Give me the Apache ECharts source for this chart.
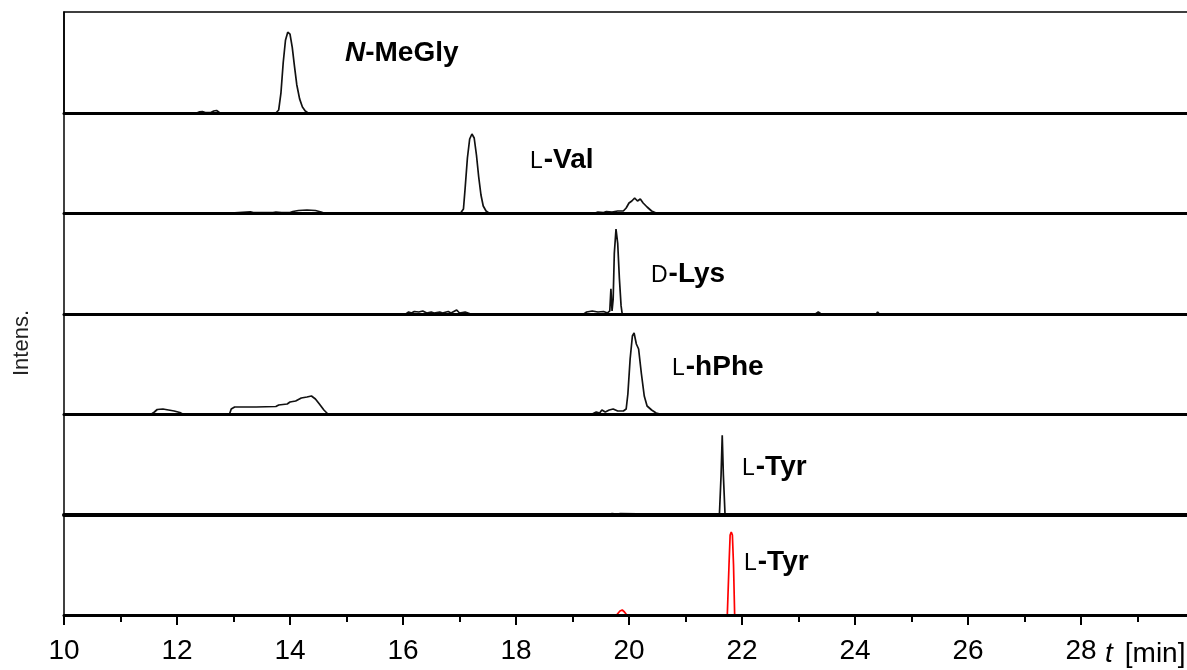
<!DOCTYPE html>
<html>
<head>
<meta charset="utf-8">
<script src="https://cdn.jsdelivr.net/npm/echarts@6/dist/echarts.min.js"></script>
<style>
html,body{margin:0;padding:0;background:#fff;}
#chart{width:1187px;height:670px;}
</style>
</head>
<body>
<div id="chart"></div>
<script>
// ---- data (time in min, intensity in % of panel) ----
const xTicks = [10, 12, 14, 16, 18, 20, 22, 24, 26, 28];
const panelLabels = ['{i|N}{b|-MeGly}', '{s|L}{b|-Val}', '{s|D}{b|-Lys}', '{s|L}{b|-hPhe}', '{s|L}{b|-Tyr}', '{s|L}{b|-Tyr}'];
const traceMeGly = [[10,0],[12.35,0],[12.4,1.2],[12.45,1.5],[12.5,0.5],[12.6,0.5],[12.65,2],[12.7,2.5],[12.75,0.5],[12.8,0],[13.75,0],[13.8,3],[13.84,20],[13.88,50],[13.92,72],[13.96,80],[14.0,78],[14.04,65],[14.08,46],[14.12,28],[14.17,14],[14.22,6],[14.27,2],[14.32,0],[30,0]];
const traceVal = [[10,0],[12.95,0],[12.97,1.2],[13.3,1.2],[13.35,0.5],[13.6,0.5],[13.62,1.2],[13.7,0.5],[13.75,1],[13.85,0.5],[14.0,0.5],[14.05,1.5],[14.15,2.5],[14.3,3],[14.45,2.5],[14.55,1],[14.6,0],[17.02,0],[17.07,4],[17.1,25],[17.14,55],[17.18,74],[17.22,79],[17.26,75],[17.3,58],[17.34,36],[17.38,18],[17.42,7],[17.47,2],[17.52,0],[19.4,0],[19.45,1],[19.55,0.5],[19.6,1.5],[19.7,1],[19.8,2],[19.9,2],[19.95,5],[20.0,10],[20.05,12],[20.1,15],[20.15,12],[20.2,14],[20.25,10],[20.32,6],[20.4,2],[20.48,0],[30,0]];
const traceLys = [[10,0],[14.44,0],[14.46,1.5],[14.48,0],[15.1,0],[15.12,1.2],[15.14,0],[15.84,0],[15.86,1.5],[15.88,0],[16.05,0],[16.1,2],[16.15,1],[16.2,2.5],[16.28,2],[16.35,3],[16.42,1],[16.5,2],[16.55,1],[16.65,2],[16.7,1],[16.8,2.5],[16.85,1],[16.95,4],[17.0,1],[17.1,2],[17.2,0],[19.2,0],[19.25,2],[19.35,3],[19.45,2],[19.55,2.5],[19.62,1],[19.66,3],[19.68,25],[19.7,3],[19.72,15],[19.74,60],[19.77,84],[19.8,70],[19.83,35],[19.86,8],[19.88,0],[20.63,0],[20.65,1.5],[20.67,0],[22.55,0],[22.57,1],[22.59,0],[23.3,0],[23.35,2],[23.4,0],[24.38,0],[24.4,2],[24.43,0],[30,0]];
const tracePhe = [[10,0],[11.55,0],[11.6,2],[11.65,4.5],[11.75,5],[11.85,4],[11.95,3],[12.05,1.5],[12.1,0],[12.93,0],[12.96,5],[13.02,7],[13.4,7],[13.75,7.5],[13.8,9],[13.95,10],[14.0,12],[14.1,13],[14.2,16],[14.3,17],[14.38,18],[14.45,15],[14.52,10],[14.6,4],[14.67,0],[19.35,0],[19.42,2],[19.48,1],[19.52,4],[19.58,2],[19.65,4],[19.72,5],[19.8,3],[19.9,3],[19.95,5],[19.98,20],[20.02,55],[20.06,78],[20.09,81],[20.13,70],[20.17,65],[20.22,40],[20.27,18],[20.32,8],[20.4,4],[20.48,1],[20.55,0],[30,0]];
const traceTyr = [[10,0],[19.56,0],[19.58,1.5],[19.62,0.5],[19.7,1.5],[19.78,0.8],[19.85,1.5],[19.88,0],[21.6,0],[21.63,40],[21.65,79],[21.67,40],[21.7,0],[30,0]];
const traceTyrRef = [[10,0],[19.78,0],[19.84,4],[19.88,5],[19.92,3],[19.96,0],[21.74,0],[21.77,50],[21.79,80],[21.81,83],[21.83,80],[21.85,50],[21.87,0],[30,0]];
const traces = [traceMeGly, traceVal, traceLys, tracePhe, traceTyr, traceTyrRef];
const traceColors = ['#111', '#111', '#111', '#111', '#111', '#ff0000'];

// ---- layout ----
const gridTops = [12, 113, 213, 314, 414, 515];
const gridHeights = [101, 100, 101, 100, 101, 100];
const dividerWidths = [3, 3, 3, 3, 4, 3];
const labelPos = [[345, 53], [530, 160], [651, 274], [672, 367], [742, 467], [744, 562]];
const FONT = '"Liberation Sans", Arial, sans-serif';

const grids = [], xAxes = [], yAxes = [], series = [], graphics = [];
for (let i = 0; i < 6; i++) {
  const last = i === 5;
  grids.push({
    left: 64, width: 1130, top: gridTops[i], height: gridHeights[i],
    outerBoundsMode: 'none', containLabel: false,
    show: i === 0, borderColor: '#000', borderWidth: 1.5, backgroundColor: 'transparent'
  });
  xAxes.push({
    gridIndex: i, type: 'value', min: 10, max: 30, interval: 2, z: 5,
    axisLine: { show: true, lineStyle: { color: '#000', width: dividerWidths[i] } },
    axisTick: { show: last, length: 10, lineStyle: { color: '#000', width: 2 } },
    minorTick: { show: last, splitNumber: 2, length: 7, lineStyle: { color: '#000', width: 2 } },
    axisLabel: {
      show: last, margin: 22, color: '#000', fontSize: 28, fontFamily: FONT,
      formatter: v => (xTicks.indexOf(v) >= 0 ? String(v) : '')
    },
    splitLine: { show: false }, minorSplitLine: { show: false }
  });
  yAxes.push({
    gridIndex: i, type: 'value', min: 0, max: 100, z: 5,
    axisLine: { show: true, lineStyle: { color: '#000', width: 1.5 } },
    axisTick: { show: false }, axisLabel: { show: false }, splitLine: { show: false }
  });
  series.push({
    type: 'line', xAxisIndex: i, yAxisIndex: i, data: traces[i],
    showSymbol: false, symbol: 'none', animation: false,
    lineStyle: { color: traceColors[i], width: 1.7 }, z: 1
  });
  graphics.push({
    type: 'text', x: labelPos[i][0], y: labelPos[i][1],
    style: {
      text: panelLabels[i], verticalAlign: 'middle', textVerticalAlign: 'middle',
      rich: {
        b: { fontSize: 28, fontWeight: 'bold', fontFamily: FONT, fill: '#000', color: '#000' },
        i: { fontSize: 28, fontWeight: 'bold', fontStyle: 'italic', fontFamily: FONT, fill: '#000', color: '#000' },
        s: { fontSize: 23, fontWeight: 'normal', fontFamily: FONT, fill: '#000', color: '#000', padding: [3, 1, 0, 0] }
      }
    }
  });
}
graphics.push({
  type: 'text', x: 22, y: 343, rotation: Math.PI / 2,
  style: { text: 'Intens.', fontSize: 22, fontFamily: FONT, fill: '#222', align: 'center', verticalAlign: 'middle' }
});
graphics.push({
  type: 'text', x: 1105, y: 654,
  style: {
    text: '{i|t}{n|[min]}', verticalAlign: 'middle',
    rich: {
      i: { fontSize: 28, fontStyle: 'italic', fontFamily: FONT, fill: '#000', color: '#000' },
      n: { fontSize: 28, fontFamily: FONT, fill: '#000', color: '#000', padding: [0, 0, 0, 12] }
    }
  }
});

const chart = echarts.init(document.getElementById('chart'), null, { renderer: 'canvas' });
chart.setOption({
  animation: false,
  backgroundColor: '#fff',
  grid: grids, xAxis: xAxes, yAxis: yAxes, series: series, graphic: graphics
});
</script>
</body>
</html>
